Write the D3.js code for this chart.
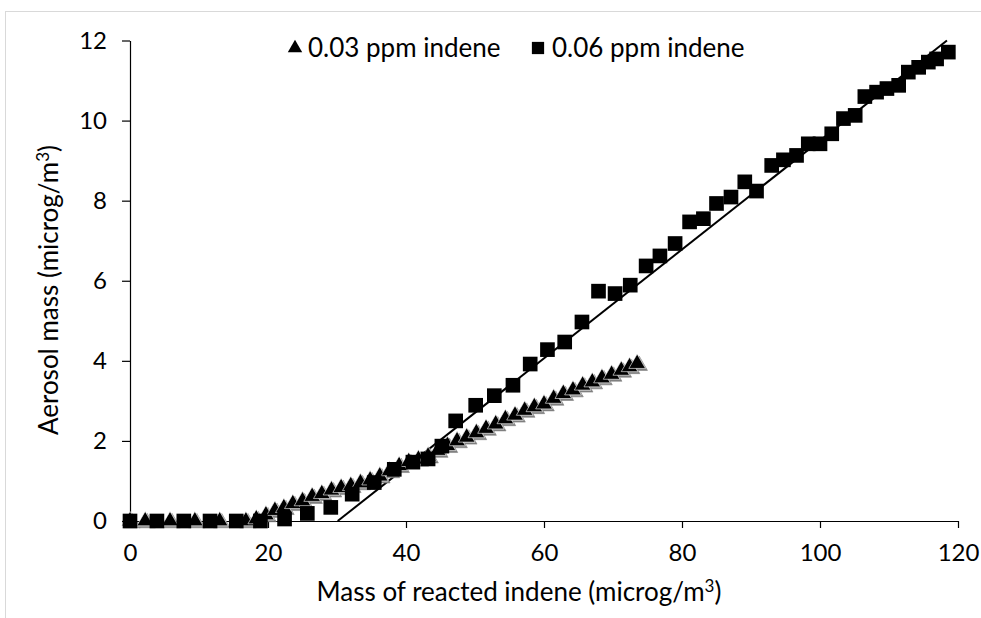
<!DOCTYPE html>
<html><head><meta charset="utf-8">
<script src="https://cdn.jsdelivr.net/npm/d3@7"></script>
<style>
html,body{margin:0;padding:0;background:#fff;}
svg{display:block;font-family:Lato,"Open Sans",sans-serif;}
</style></head>
<body>
<svg id="chart" width="981" height="618"></svg>
<script>
// ---- data ----
const xTicks = [0, 20, 40, 60, 80, 100, 120];
const yTicks = [0, 2, 4, 6, 8, 10, 12];
const seriesNames = ["0.03 ppm indene", "0.06 ppm indene"];

// 0.06 ppm indene (squares)
const sqX = [0, 3.9, 7.8, 11.6, 15.4, 18.9, 22.4, 25.7, 29.1, 32.2, 35.4, 38.3, 41.0, 43.2, 45.2, 47.2, 50.1, 52.8, 55.5, 58.0, 60.5, 63.0, 65.5, 67.9, 70.3, 72.5, 74.8, 76.8, 79.0, 81.1, 83.1, 85.0, 87.1, 89.1, 90.8, 93.0, 94.7, 96.6, 98.3, 100.0, 101.7, 103.4, 105.1, 106.5, 108.2, 109.7, 111.4, 112.8, 114.3, 115.7, 116.9, 118.6];
const sqY = [0, 0, 0, 0, 0, 0, 0.05, 0.19, 0.34, 0.67, 0.96, 1.29, 1.47, 1.55, 1.87, 2.50, 2.89, 3.13, 3.39, 3.92, 4.28, 4.47, 4.97, 5.74, 5.68, 5.89, 6.37, 6.62, 6.93, 7.47, 7.55, 7.93, 8.09, 8.47, 8.24, 8.88, 9.02, 9.13, 9.42, 9.42, 9.67, 10.05, 10.13, 10.60, 10.71, 10.80, 10.88, 11.21, 11.33, 11.46, 11.54, 11.71];

// 0.03 ppm indene (triangles)
const trX = [0, 2.2, 5.8, 9.4, 13.0, 16.8, 18.3, 19.7, 21.0, 22.3, 23.6, 25.0, 26.4, 27.8, 29.2, 30.6, 32.0, 33.4, 34.8, 36.2, 37.6, 39.0, 40.4, 41.8, 43.2, 44.6, 46.0, 47.4, 48.8, 50.2, 51.6, 53.0, 54.4, 55.8, 57.2, 58.6, 60.0, 61.4, 62.8, 64.2, 65.6, 67.0, 68.4, 69.8, 71.2, 72.4, 73.5];
const trY = [0, 0, 0, 0, 0, 0, 0.05, 0.15, 0.26, 0.33, 0.43, 0.50, 0.61, 0.68, 0.77, 0.83, 0.88, 0.95, 1.02, 1.12, 1.25, 1.38, 1.48, 1.54, 1.62, 1.76, 1.88, 2.00, 2.09, 2.20, 2.31, 2.42, 2.55, 2.64, 2.76, 2.85, 2.92, 3.06, 3.18, 3.27, 3.39, 3.47, 3.57, 3.66, 3.76, 3.85, 3.93];

// linear fit for 0.06 ppm series (start / end)
const fitX = [30.1, 118.4];
const fitY = [0, 12];

// ---- drawing ----
const svg = d3.select("#chart");
const plot = {left: 130, right: 958, top: 40.5, bottom: 521};
const FONT = "Lato, 'Open Sans', sans-serif";
const fs = 26;
const tickFs = 24;

svg.append("rect").attr("x", 5.5).attr("y", 11.5).attr("width", 1000).attr("height", 700)
  .attr("fill", "#fff").attr("stroke", "#d9d9d9").attr("stroke-width", 1);

const defs = svg.append("defs");
const f = defs.append("filter").attr("id", "shadow").attr("x", "-50%").attr("y", "-50%").attr("width", "200%").attr("height", "200%");
f.append("feDropShadow").attr("dx", 2).attr("dy", 2).attr("stdDeviation", 0.4)
  .attr("flood-color", "#7f7f7f").attr("flood-opacity", 1);

const x = d3.scaleLinear().domain([0, 120]).range([plot.left, plot.right]);
const y = d3.scaleLinear().domain([0, 12]).range([plot.bottom, plot.top]);

const yAxis = svg.append("g").attr("transform", `translate(${plot.left},0)`)
  .call(d3.axisLeft(y).tickValues(yTicks).tickSize(8).tickPadding(15).tickSizeOuter(0).tickFormat(d3.format("d")));
const xAxis = svg.append("g").attr("transform", `translate(0,${plot.bottom})`)
  .call(d3.axisBottom(x).tickValues(xTicks).tickSize(7).tickPadding(16).tickSizeOuter(0).tickFormat(d3.format("d")));
[yAxis, xAxis].forEach(g => {
  g.select(".domain").attr("stroke", "#000").attr("stroke-width", 1.2);
  g.selectAll(".tick line").attr("stroke", "#000").attr("stroke-width", 1.2);
  g.selectAll(".tick text").attr("fill", "#000").style("font-size", tickFs + "px").style("font-family", FONT);
});

svg.append("line")
  .attr("x1", x(fitX[0])).attr("y1", y(fitY[0]))
  .attr("x2", x(fitX[1])).attr("y2", y(fitY[1]))
  .attr("stroke", "#000").attr("stroke-width", 2);

const sq = d3.symbol().type(d3.symbolSquare).size(215);
const tr = d3.symbol().type(d3.symbolTriangle).size(120);

const trData = trX.map((v, i) => ({x: v, y: trY[i]}));
const sqData = sqX.map((v, i) => ({x: v, y: sqY[i]}));

svg.append("g").attr("filter", "url(#shadow)")
  .selectAll("path").data(trData).enter().append("path")
  .attr("d", tr).attr("transform", d => `translate(${x(d.x)},${y(d.y)})`)
  .attr("fill", "#000").attr("stroke", "#fff").attr("stroke-width", 0.6);
svg.append("g")
  .selectAll("path").data(sqData).enter().append("path")
  .attr("d", sq).attr("transform", d => `translate(${x(d.x)},${y(d.y)})`)
  .attr("fill", "#000");

// legend
const leg1 = svg.append("g").attr("transform", "translate(295,48)");
leg1.append("path").attr("d", d3.symbol().type(d3.symbolTriangle).size(90)).attr("fill", "#000");
leg1.append("text").attr("x", 13).attr("y", 9).style("font-size", fs + "px").text(seriesNames[0]);
const leg2 = svg.append("g").attr("transform", "translate(538,48)");
leg2.append("path").attr("d", d3.symbol().type(d3.symbolSquare).size(150)).attr("fill", "#000");
leg2.append("text").attr("x", 14).attr("y", 9).style("font-size", fs + "px").text(seriesNames[1]);

// axis titles
const xt = svg.append("text").attr("x", 519).attr("y", 601).attr("text-anchor", "middle").style("font-size", fs + "px");
xt.append("tspan").text("Mass of reacted indene (microg/m");
xt.append("tspan").attr("dy", -9).style("font-size", "17px").text("3");
xt.append("tspan").attr("dy", 9).text(")");

const yt = svg.append("text").attr("transform", `translate(58,290) rotate(-90)`)
  .attr("text-anchor", "middle").style("font-size", fs + "px");
yt.append("tspan").text("Aerosol mass (microg/m");
yt.append("tspan").attr("dy", -9).style("font-size", "17px").text("3");
yt.append("tspan").attr("dy", 9).text(")");
</script>
</body></html>
